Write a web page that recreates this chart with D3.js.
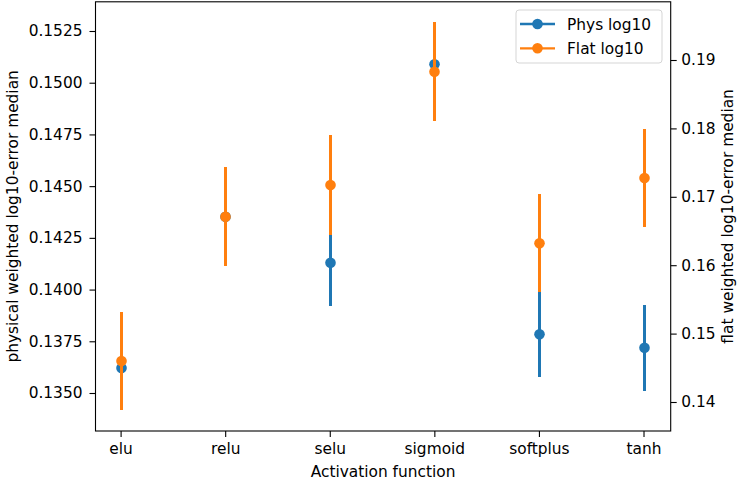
<!DOCTYPE html>
<html>
<head>
<meta charset="utf-8">
<script src="https://cdn.jsdelivr.net/npm/d3@7/dist/d3.min.js"></script>
<style>
  html, body { margin: 0; padding: 0; background: #fff; }
  svg { display: block; font-family: "DejaVu Sans", sans-serif; }
</style>
</head>
<body>
<svg id="chart" width="737" height="483"></svg>
<script>
// Median error per activation function, with spread, on two scales
const categories = ["elu", "relu", "selu", "sigmoid", "softplus", "tanh"];
const physMedian = [0.13621, 0.14352, 0.14130, 0.15089, 0.13784, 0.13719];
const physErr    = [0.00200, 0.00200, 0.00208, 0.00200, 0.00205, 0.00208];
const flatMedian = [0.14599, 0.16709, 0.17173, 0.18829, 0.16320, 0.17275];
const flatErr    = [0.00716, 0.00720, 0.00731, 0.00724, 0.00717, 0.00722];
const leftTicks  = [0.1350, 0.1375, 0.1400, 0.1425, 0.1450, 0.1475, 0.1500, 0.1525];
const rightTicks = [0.14, 0.15, 0.16, 0.17, 0.18, 0.19];
const seriesNames = ["Phys log10", "Flat log10"];
const colors = ["#1f77b4", "#ff7f0e"];

const fontSize = 15.4;
const svg = d3.select("#chart");

const plot = { left: 95.5, right: 670.7, top: 1.8, bottom: 431 };

const x = d3.scaleLinear().domain([-0.24, 5.26]).range([plot.left, plot.right]);
const yL = d3.scaleLinear().domain([0.1350, 0.1525]).range([393, 31]);
const yR = d3.scaleLinear().domain([0.14, 0.19]).range([402, 60]);

// Axes
function styleAxis(g) {
  g.select(".domain").remove();
  g.selectAll(".tick line").attr("stroke", "#000").attr("stroke-width", 1.1);
  g.selectAll(".tick text").attr("fill", "#000")
    .style("font-size", fontSize + "px")
    .style("font-family", "DejaVu Sans, sans-serif");
}

svg.append("g")
  .attr("transform", `translate(${plot.left},0)`)
  .call(d3.axisLeft(yL).tickValues(leftTicks).tickFormat(d3.format(".4f")).tickSize(6).tickPadding(7))
  .call(styleAxis);

svg.append("g")
  .attr("transform", `translate(${plot.right},0)`)
  .call(d3.axisRight(yR).tickValues(rightTicks).tickFormat(d3.format(".2f")).tickSize(6).tickPadding(4.5))
  .call(styleAxis);

svg.append("g")
  .attr("transform", `translate(0,${plot.bottom})`)
  .call(d3.axisBottom(x).tickValues(d3.range(categories.length)).tickFormat(i => categories[i]).tickSize(6).tickPadding(6))
  .call(styleAxis);

// Error bars and medians; bars snap to whole pixels so overlapping series stack cleanly
function drawSeries(median, err, y, color) {
  const g = svg.append("g");
  g.selectAll("line")
    .data(categories)
    .join("line")
    .attr("x1", (d, i) => Math.round(x(i)) + 0.5)
    .attr("x2", (d, i) => Math.round(x(i)) + 0.5)
    .attr("y1", (d, i) => y(median[i] - err[i]))
    .attr("y2", (d, i) => y(median[i] + err[i]))
    .attr("stroke", color)
    .attr("stroke-width", 3)
    .attr("shape-rendering", "crispEdges");
  g.selectAll("circle")
    .data(categories)
    .join("circle")
    .attr("cx", (d, i) => Math.round(x(i)) + 0.5)
    .attr("cy", (d, i) => y(median[i]))
    .attr("r", 5.3)
    .attr("fill", color);
}
drawSeries(physMedian, physErr, yL, colors[0]);
drawSeries(flatMedian, flatErr, yR, colors[1]);

// Frame
svg.append("rect")
  .attr("x", plot.left).attr("y", plot.top)
  .attr("width", plot.right - plot.left).attr("height", plot.bottom - plot.top)
  .attr("fill", "none").attr("stroke", "#000").attr("stroke-width", 1.1);

// Axis titles
svg.append("text")
  .attr("x", (plot.left + plot.right) / 2).attr("y", 477)
  .attr("text-anchor", "middle").style("font-size", fontSize + "px")
  .text("Activation function");

svg.append("text")
  .attr("transform", `translate(17.5,${(plot.top + plot.bottom) / 2}) rotate(-90)`)
  .attr("text-anchor", "middle").style("font-size", fontSize + "px")
  .text("physical weighted log10-error median");

svg.append("text")
  .attr("transform", `translate(733.3,${(plot.top + plot.bottom) / 2}) rotate(-90)`)
  .attr("text-anchor", "middle").style("font-size", fontSize + "px")
  .text("flat weighted log10-error median");

// Legend
const legend = svg.append("g");
legend.append("rect")
  .attr("x", 516).attr("y", 10).attr("width", 146).attr("height", 53)
  .attr("rx", 3).attr("fill", "#fff").attr("fill-opacity", 0.8)
  .attr("stroke", "#d5d5d5").attr("stroke-width", 1);
const rows = legend.selectAll("g.row")
  .data(seriesNames)
  .join("g")
  .attr("class", "row")
  .attr("transform", (d, i) => `translate(0,${24 + i * 24.3})`);
rows.append("line")
  .attr("x1", 520).attr("x2", 555).attr("y1", 0).attr("y2", 0)
  .attr("stroke", (d, i) => colors[i]).attr("stroke-width", 2.3);
rows.append("circle")
  .attr("cx", 537.5).attr("cy", 0).attr("r", 5.3)
  .attr("fill", (d, i) => colors[i]);
rows.append("text")
  .attr("x", 567).attr("y", 0).attr("dy", "0.36em")
  .style("font-size", fontSize + "px")
  .text(d => d);
</script>
</body>
</html>
